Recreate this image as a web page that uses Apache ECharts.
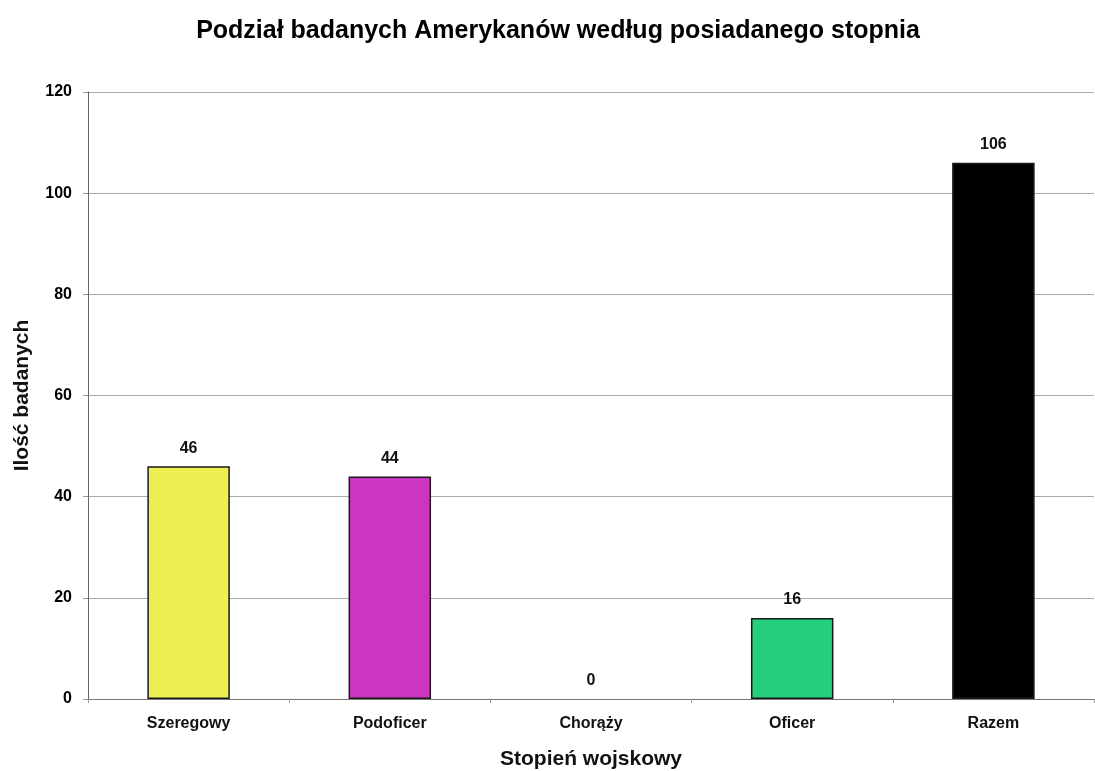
<!DOCTYPE html>
<html>
<head>
<meta charset="utf-8">
<script src="https://cdn.jsdelivr.net/npm/echarts@6/dist/echarts.min.js"></script>
<style>
  html, body { margin: 0; padding: 0; background: #fff; }
  #chart { width: 1095px; height: 771px; }
</style>
</head>
<body>
<div id="chart"></div>
<script>
  // dane
  var categories = ['Szeregowy', 'Podoficer', 'Chorąży', 'Oficer', 'Razem']
  var values = [46, 44, 0, 16, 106]
  var yTicks = [0, 20, 40, 60, 80, 100, 120]

  var barColors = ['#eef052', '#cc35bf', '#e0e0e0', '#26cf7e', '#000000']
  var font = 'Liberation Sans, Arial, sans-serif'

  var chart = echarts.init(document.getElementById('chart'))
  var option = {
    animation: false,
    title: {
      text: 'Podział badanych Amerykanów według posiadanego stopnia',
      left: 553,
      textAlign: 'center',
      top: 14,
      textStyle: { fontFamily: font, fontSize: 25, fontWeight: 'bold', color: '#000' }
    },
    grid: { left: 88, right: 1, top: 92, bottom: 72, outerBoundsMode: 'none' },
    xAxis: {
      type: 'category',
      data: categories,
      name: 'Stopień wojskowy',
      nameLocation: 'middle',
      nameGap: 50,
      nameTextStyle: { fontFamily: font, fontSize: 21, fontWeight: 'bold', color: '#111' },
      axisLine: { lineStyle: { color: '#777' } },
      axisTick: { show: true, length: 4, lineStyle: { color: '#999' } },
      axisLabel: { fontFamily: font, fontSize: 16, fontWeight: 'bold', color: '#111', margin: 17 }
    },
    yAxis: {
      type: 'value',
      min: yTicks[0],
      max: yTicks[yTicks.length - 1],
      interval: 20,
      name: 'Ilość badanych',
      nameLocation: 'middle',
      nameGap: 55,
      nameTextStyle: { fontFamily: font, fontSize: 21, fontWeight: 'bold', color: '#111' },
      axisLine: { show: true, lineStyle: { color: '#666' } },
      axisTick: { show: true, length: 5, lineStyle: { color: '#999' } },
      axisLabel: { fontFamily: font, fontSize: 16, fontWeight: 'bold', color: '#000', margin: 16 },
      splitLine: { lineStyle: { color: '#aaa', width: 1 } }
    },
    series: [{
      type: 'bar',
      barWidth: '41%',
      data: values.map(function (v, i) {
        return {
          value: v,
          itemStyle: { color: barColors[i], borderColor: '#1a1a1a', borderWidth: v === 0 ? 0 : 1.5 }
        }
      }),
      label: {
        show: true,
        position: 'top',
        distance: 10,
        fontFamily: font,
        fontSize: 16,
        fontWeight: 'bold',
        color: '#111'
      }
    }]
  }
  chart.setOption(option)
</script>
</body>
</html>
